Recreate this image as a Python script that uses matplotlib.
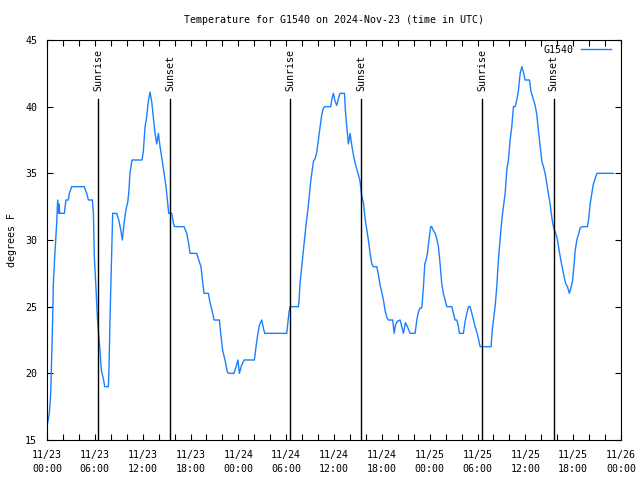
import matplotlib
matplotlib.use("Agg")
import matplotlib.pyplot as plt
import matplotlib.dates as mdates
import pandas as pd

start = "2024-11-23 00:00"
hours = [0.0,0.29,0.46,0.59,0.71,0.79,0.96,1.09,1.21,1.34,1.45,1.5,1.6,2.17,2.38,2.67,2.8,3.09,4.68,4.98,5.19,5.69,5.82,5.94,6.11,6.32,6.48,6.65,6.82,7.07,7.24,7.7,7.78,7.9,8.03,8.16,8.24,8.74,9.0,9.24,9.45,9.66,9.91,10.12,10.25,10.41,10.66,11.92,12.09,12.3,12.5,12.71,12.92,13.13,13.34,13.55,13.76,13.97,14.18,14.39,14.68,14.93,15.1,15.27,15.64,15.85,15.98,17.19,17.53,17.78,17.94,18.78,19.03,19.32,19.53,19.7,20.24,20.45,20.79,20.95,21.62,21.79,22.04,22.33,22.62,22.79,23.46,23.71,23.96,24.13,24.4,24.72,26.01,26.22,26.43,26.64,26.94,27.14,27.31,30.07,30.2,30.36,30.49,31.54,31.62,31.74,31.91,32.04,32.16,32.33,32.5,32.71,32.87,33.04,33.21,33.42,33.63,33.84,34.04,34.25,34.46,34.67,34.88,35.59,35.72,35.92,36.14,36.35,36.55,36.76,37.31,37.43,37.6,37.81,38.02,38.23,38.43,38.64,38.86,39.06,39.27,39.48,39.69,39.9,40.11,40.31,40.53,40.74,40.94,41.37,41.57,41.78,41.99,42.2,42.41,42.62,42.82,43.37,43.54,43.7,43.95,44.29,44.5,44.71,44.96,45.21,45.55,46.17,46.39,46.59,46.8,47.01,47.22,47.39,47.55,47.72,47.93,48.14,48.26,48.47,48.68,48.89,49.1,49.31,49.52,49.72,49.94,50.15,50.78,50.98,51.19,51.41,51.61,51.73,52.23,52.45,52.66,52.86,53.07,53.29,53.49,53.7,53.91,54.12,54.33,55.71,55.83,56.0,56.21,56.42,56.62,56.84,57.05,57.25,57.47,57.68,57.88,58.09,58.3,58.51,58.72,58.93,59.13,59.35,59.56,59.76,59.97,60.52,60.69,61.02,61.23,61.44,61.64,61.86,62.07,62.27,62.48,62.7,62.9,63.11,63.32,63.45,63.61,63.82,64.03,64.24,64.45,64.65,64.87,65.08,65.28,65.53,65.71,65.91,66.12,66.25,66.46,66.66,66.88,67.09,67.79,67.97,68.13,68.34,68.54,68.76,68.97,71.05]
temps = [16,17,18.4,21.2,24,26.6,28.7,30,31.2,33,32,32.7,32,32,33,33,33.5,34,34,33.5,33,33,32,28.7,26.8,24.2,22.9,21.7,20.2,19.6,19,19,20.5,24,27.1,30.4,32,32,31.5,30.8,30,31.2,32.3,32.8,33.5,35,36,36,36.7,38.5,39.2,40.4,41.1,40.4,39.2,38,37.2,38,37,36.2,35,34,33,32,32,31.3,31,31,30.5,29.7,29,29,28.5,28,26.8,26,26,25.3,24.5,24,24,23,21.7,21,20.1,20,20,20.5,21,20,20.6,21,21,22,22.9,23.6,24,23.4,23,23,23.7,24.6,25,25,25.5,26.75,27.75,28.5,29.2,30.2,31.2,32.2,33.1,34.2,35,35.9,36.1,36.6,37.5,38.5,39.4,39.9,40,40,40.5,41,40.4,40.1,40.6,41,41,39.7,38.5,37.2,38,37.1,36.4,35.8,35.3,34.9,34.4,33.3,32.8,31.6,30.8,30,29,28.2,28,28,27.4,26.6,26.1,25.5,24.7,24.2,24,24,23,23.6,23.9,24,23.5,23,23.8,23.5,23,23,24,24.6,24.9,24.9,26.5,28.2,28.5,29,30.1,31,31,30.7,30.5,30.1,29.5,28.2,26.7,26,25.5,25,25,24.5,24,24,23.5,23,23,23.9,24.5,25,25,24.5,24,23.5,23.1,22.6,22,22,23.1,24,25,26.5,28.5,30.1,31.5,32.5,33.5,35.3,36,37.5,38.5,40,40,40.5,41.2,42.5,43,42.6,42,42,41.2,40.5,40.1,39.4,38.2,37,35.9,35.5,35,34.2,33.5,32.7,31.7,31.2,30.8,30.5,30,29.2,28.5,27.9,27.2,26.7,26.5,26,26.4,26.9,28.2,29.2,30,30.4,30.9,31,31,31.7,32.7,33.5,34.2,34.6,35,35]

sun_times = ["2024-11-23 06:26", "2024-11-23 15:28", "2024-11-24 06:32",
             "2024-11-24 15:26", "2024-11-25 06:37", "2024-11-25 15:32"]
sun_labels = ["Sunrise", "Sunset", "Sunrise", "Sunset", "Sunrise", "Sunset"]

series_name = "G1540"
title = "Temperature for G1540 on 2024-Nov-23 (time in UTC)"
ylabel = "degrees F"
yticks = [15, 20, 25, 30, 35, 40, 45]

FONT = "DejaVu Sans Mono"
FS = 7.2
plt.rcParams["font.family"] = FONT
plt.rcParams["font.size"] = FS

t0 = pd.Timestamp(start)
times = [t0 + pd.Timedelta(hours=h) for h in hours]

fig = plt.figure(figsize=(6.4, 4.8), dpi=100)
ax = fig.add_axes([47/640, 40/480, (621-47)/640, 400/480])

ax.plot(times, temps, color="#1a80ff", lw=1.0, label=series_name)

for st, lab in zip(sun_times, sun_labels):
    ts = pd.Timestamp(st)
    ax.plot([ts, ts], [0, 0.852], color="black", lw=1.0,
            transform=ax.get_xaxis_transform())
    ax.text(ts, 0.872, lab, rotation=90, ha="center", va="bottom",
            transform=ax.get_xaxis_transform(), fontsize=FS)

ax.set_xlim(t0, t0 + pd.Timedelta(hours=72))
ax.set_ylim(15, 45)
ax.set_yticks(yticks)
ax.xaxis.set_major_locator(mdates.HourLocator(byhour=[0, 6, 12, 18]))
ax.xaxis.set_minor_locator(mdates.HourLocator(byhour=range(0, 24, 2)))
ax.xaxis.set_major_formatter(mdates.DateFormatter("%m/%d\n%H:%M"))

ax.tick_params(axis="both", which="both", direction="in", top=True, right=True,
               length=4, width=0.8, colors="black", labelsize=FS)
ax.tick_params(axis="x", which="major", pad=7.5)
ax.tick_params(axis="y", which="major", pad=7)
for s in ax.spines.values():
    s.set_linewidth(0.8)

ax.set_title(title, fontsize=FS, pad=12)
ax.set_ylabel(ylabel, fontsize=FS, labelpad=6)

leg = ax.legend(loc="upper right", frameon=False, markerfirst=False,
                handlelength=3.0, borderaxespad=0.3, fontsize=FS,
                bbox_to_anchor=(0.995, 1.006))

fig.canvas.draw()
for lbl in ax.get_xticklabels():
    lbl.set_linespacing(1.4)

fig.savefig("out.png", dpi=100)
